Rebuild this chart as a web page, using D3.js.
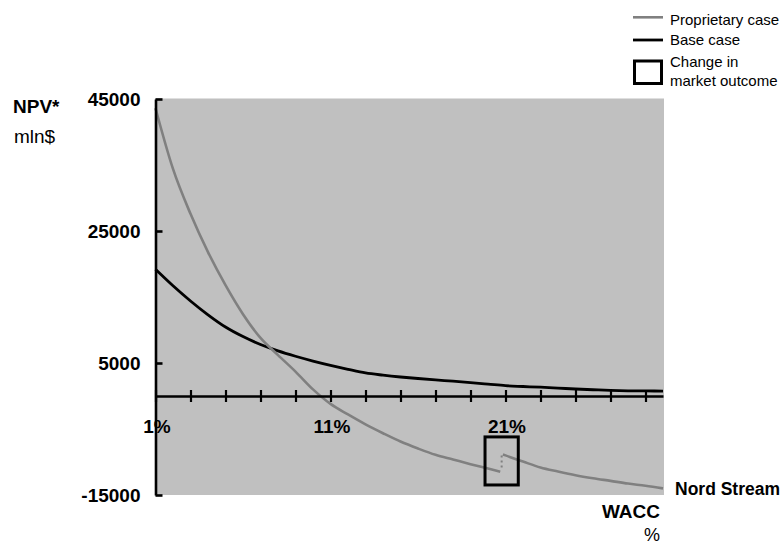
<!DOCTYPE html>
<html>
<head>
<meta charset="utf-8">
<script src="https://cdn.jsdelivr.net/npm/d3@7/dist/d3.min.js"></script>
<style>
  html, body { margin: 0; padding: 0; background: #ffffff; }
  svg { display: block; font-family: "Liberation Sans", Arial, Helvetica, sans-serif; }
</style>
</head>
<body>
<svg id="chart" width="784" height="549"></svg>
<script>
// WACC (%) grid
const wacc = [1,2,3,4,5,6,7,8,9,10,11,12,13,14,15,16,17,18,19,20,21,22,23,24,25,26,27,28,29,30];

// Base case NPV, mln $
const baseCase = [19200,16700,14400,12300,10450,9000,7800,6830,6020,5300,4650,4050,3500,3160,2880,
                  2650,2440,2240,2030,1800,1560,1440,1330,1200,1060,950,850,790,770,750];

// Proprietary case NPV, mln $ – before the change in market outcome
const waccBefore = [1,2,3,4,5,6,7,8,9,10,11,12,13,14,15,16,17,18,19,20,20.7];
const proprietaryBefore = [43600,34400,27600,21800,16800,12400,8800,6200,3700,1000,-1200,-2800,-4300,-5640,
                           -6900,-7960,-8910,-9620,-10330,-11000,-11470];

// Proprietary case NPV – after the change in market outcome
const waccAfter = [20.85,21,22,23,24,25,26,27,28,29,30];
const proprietaryAfter = [-8850,-9000,-9930,-10830,-11440,-12000,-12460,-12860,-13270,-13600,-14000];

// Jump between the two regimes and the box marking it
const jumpWacc = 20.78;
const shiftBoxWacc = [19.83, 21.73];
const shiftBoxNpv = [-6200, -13480];

// Axis ticks and labels
const yTicks = [-15000, 5000, 25000, 45000];
const xTicks = [1,3,5,7,9,11,13,15,17,19,21,23,25,27,29];
const xLabels = [1, 11, 21];

const svg = d3.select("#chart");
const font = '"Liberation Sans", Arial, Helvetica, sans-serif';

const x = d3.scaleLinear().domain([1, 30]).range([155.5, 663]);
const y = d3.scaleLinear().domain([-15000, 45000]).range([495, 99]);

// Plot area
svg.append("rect")
  .attr("x", x(1))
  .attr("y", y(45000) - 0.5)
  .attr("width", x(30) + 1 - x(1))
  .attr("height", y(-15000) - y(45000) + 0.5)
  .attr("fill", "#c0c0c0");

const line = d3.line().x(d => x(d[0])).y(d => y(d[1])).curve(d3.curveMonotoneX);

// Base case
svg.append("path")
  .datum(d3.zip(wacc, baseCase))
  .attr("d", line)
  .attr("fill", "none")
  .attr("stroke", "#000000")
  .attr("stroke-width", 2.8)
  .attr("stroke-linejoin", "round");

// Proprietary case, two regimes
[[waccBefore, proprietaryBefore], [waccAfter, proprietaryAfter]].forEach(([w, v]) => {
  svg.append("path")
    .datum(d3.zip(w, v))
    .attr("d", line)
    .attr("fill", "none")
    .attr("stroke", "#808080")
    .attr("stroke-width", 2.6)
    .attr("stroke-linejoin", "round");
});

// Dotted jump
svg.append("line")
  .attr("x1", x(jumpWacc)).attr("x2", x(jumpWacc))
  .attr("y1", y(proprietaryAfter[0]) + 1)
  .attr("y2", y(proprietaryBefore[proprietaryBefore.length - 1]) - 3)
  .attr("stroke", "#808080")
  .attr("stroke-width", 2)
  .attr("stroke-dasharray", "2,3");

// Box marking the change in market outcome
svg.append("rect")
  .attr("x", x(shiftBoxWacc[0]))
  .attr("y", y(shiftBoxNpv[0]))
  .attr("width", x(shiftBoxWacc[1]) - x(shiftBoxWacc[0]))
  .attr("height", y(shiftBoxNpv[1]) - y(shiftBoxNpv[0]))
  .attr("fill", "none")
  .attr("stroke", "#000000")
  .attr("stroke-width", 3);

// Y axis (ticks pointing into the plot)
const yAxis = svg.append("g")
  .attr("transform", `translate(${x(1)},0)`)
  .call(d3.axisLeft(y).tickValues(yTicks).tickSizeInner(-7).tickSizeOuter(0).tickPadding(15)
        .tickFormat(d => String(d)));
yAxis.select(".domain").attr("stroke-width", 2.6).attr("stroke", "#000");
yAxis.selectAll(".tick line").attr("stroke-width", 2.6).attr("stroke", "#000");
yAxis.selectAll(".tick text")
  .attr("font-family", font).attr("font-size", 19).attr("font-weight", "bold").attr("fill", "#000");

// X axis at NPV = 0 with crossing ticks
const xAxis = svg.append("g")
  .attr("transform", `translate(0,${y(0)})`)
  .call(d3.axisBottom(x).tickValues(xTicks).tickSize(6).tickSizeOuter(0).tickFormat(""));
xAxis.select(".domain").attr("stroke-width", 2.6).attr("stroke", "#000");
xAxis.selectAll(".tick line").attr("y1", -6).attr("y2", 6).attr("stroke-width", 2.2).attr("stroke", "#000");

const xLab = svg.append("g")
  .attr("transform", `translate(1,${y(0)})`)
  .call(d3.axisBottom(x).tickValues(xLabels).tickSize(0).tickPadding(23.5).tickFormat(d => d + "%"));
xLab.select(".domain").remove();
xLab.selectAll(".tick text")
  .attr("font-family", font).attr("font-size", 19).attr("font-weight", "bold").attr("fill", "#000");

// Axis titles
svg.append("text").attr("x", 13).attr("y", 113)
  .attr("font-size", 19).attr("font-weight", "bold").text("NPV*");
svg.append("text").attr("x", 14).attr("y", 143)
  .attr("font-size", 19).text("mln$");
svg.append("text").attr("x", 660).attr("y", 518).attr("text-anchor", "end")
  .attr("font-size", 19).attr("font-weight", "bold").text("WACC");
svg.append("text").attr("x", 660).attr("y", 541).attr("text-anchor", "end")
  .attr("font-size", 18).text("%");
svg.append("text").attr("x", 675).attr("y", 495)
  .attr("font-size", 17.5).attr("font-weight", "bold").text("Nord Stream");

// Legend
const legend = svg.append("g").attr("font-size", 15);
legend.append("line").attr("x1", 633).attr("x2", 663).attr("y1", 17.3).attr("y2", 17.3)
  .attr("stroke", "#808080").attr("stroke-width", 2.6);
legend.append("text").attr("x", 670).attr("y", 25).text("Proprietary case");
legend.append("line").attr("x1", 633).attr("x2", 663).attr("y1", 40).attr("y2", 40)
  .attr("stroke", "#000").attr("stroke-width", 2.8);
legend.append("text").attr("x", 670).attr("y", 45).text("Base case");
legend.append("rect").attr("x", 634.5).attr("y", 61).attr("width", 27).attr("height", 22.5)
  .attr("fill", "none").attr("stroke", "#000").attr("stroke-width", 3);
legend.append("text").attr("x", 670).attr("y", 66.5).text("Change in");
legend.append("text").attr("x", 670).attr("y", 86).text("market outcome");
</script>
</body>
</html>
